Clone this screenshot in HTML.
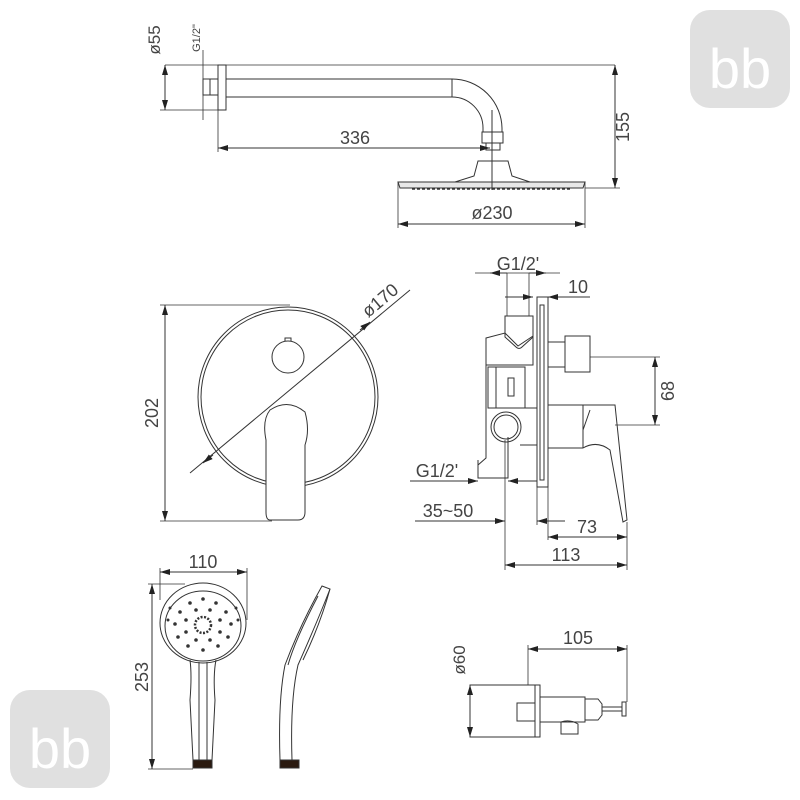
<!DOCTYPE html>
<html><head><meta charset="utf-8"><style>
html,body{margin:0;padding:0;background:#fff}
svg{display:block}
text{font-family:"Liberation Sans","DejaVu Sans",sans-serif;fill:#444}
</style></head><body>
<svg width="800" height="800" viewBox="0 0 800 800" xmlns="http://www.w3.org/2000/svg">
<defs>
<marker id="a" viewBox="0 0 10 6" refX="10" refY="3" markerWidth="10" markerHeight="6" orient="auto-start-reverse" markerUnits="userSpaceOnUse"><path d="M0,0L10,3L0,6z" fill="#222"/></marker>
</defs>
<!-- logos -->
<g>
<rect x="690" y="10" width="100" height="98" rx="20" fill="#e0e0e0"/>
<text x="740" y="88" font-size="56" text-anchor="middle" style="fill:#fff">bb</text>
<rect x="10" y="690" width="100" height="98" rx="20" fill="#e0e0e0"/>
<text x="60" y="768" font-size="56" text-anchor="middle" style="fill:#fff">bb</text>
</g>
<g fill="none" stroke="#333" stroke-width="1">
<!-- TOP SHOWER -->
<rect x="218" y="65" width="8" height="45"/>
<rect x="203" y="79" width="15" height="16"/>
<line x1="210" y1="79" x2="210" y2="95"/>
<path d="M226,79 H452 A50,50 0 0 1 502,129 V132"/>
<path d="M226,97 H452 A31,31 0 0 1 483,128 V132"/>
<line x1="452" y1="79" x2="452" y2="97"/>
<rect x="482" y="132" width="21" height="11"/>
<path d="M486,143 V150 H500 V143"/>
<path d="M478,161 H508 L512,176 L530,182 H455 L474,176 Z"/>
<path d="M398,182 H585 L583,188 H400 Z" fill="#e8e8e8"/>
<path d="M412,189 H570" stroke-dasharray="3,2" stroke-width="1.5"/>
<line x1="492" y1="110" x2="492" y2="190"/>
<!-- dims top -->
<line x1="165" y1="65" x2="615" y2="65" stroke-width="0.8"/>
<line x1="160" y1="110" x2="218" y2="110" stroke-width="0.8"/>
<line x1="165" y1="65" x2="165" y2="110" marker-start="url(#a)" marker-end="url(#a)"/>
<line x1="203" y1="50" x2="203" y2="120" stroke-width="0.8"/>
<line x1="615" y1="65" x2="615" y2="188" marker-start="url(#a)" marker-end="url(#a)"/>
<line x1="585" y1="188" x2="620" y2="188" stroke-width="0.8"/>
<line x1="218" y1="110" x2="218" y2="152" stroke-width="0.8"/>
<line x1="218" y1="148" x2="490" y2="148" marker-start="url(#a)" marker-end="url(#a)"/>
<line x1="398" y1="182" x2="398" y2="228" stroke-width="0.8"/>
<line x1="585" y1="182" x2="585" y2="228" stroke-width="0.8"/>
<line x1="398" y1="224" x2="585" y2="224" marker-start="url(#a)" marker-end="url(#a)"/>

<!-- ROUND PLATE -->
<circle cx="288" cy="397" r="90"/>
<circle cx="288" cy="397" r="87"/>
<circle cx="288" cy="357" r="16"/>
<path d="M285,341 V338 H291 V341"/>
<path d="M270,520 Q266,520 266,512 V440 Q262,420 270,410 Q288,398 305,412 Q310,430 305,445 V512 Q305,520 298,520 Z" fill="#fff"/>
<line x1="190" y1="473" x2="410" y2="290"/>
<path d="M213,455 L203,463" marker-end="url(#a)"/>
<path d="M360,330 L370,322" marker-end="url(#a)"/>
<line x1="160" y1="305" x2="290" y2="305" stroke-width="0.8"/>
<line x1="160" y1="521" x2="272" y2="521" stroke-width="0.8"/>
<line x1="165" y1="305" x2="165" y2="521" marker-start="url(#a)" marker-end="url(#a)"/>

<!-- SIDE VIEW -->
<rect x="537" y="297" width="11" height="190"/>
<rect x="540" y="305" width="4" height="175"/>
<path d="M505,316 H533 V337 L522,347 Q519,350 516,347 L505,337 Z"/>
<path d="M486,338 L505,333 L518,346 L533,336 V365 H486 Z"/>
<path d="M488,367 H525 V408 H488 Z"/>
<line x1="496" y1="367" x2="496" y2="408"/>
<rect x="508" y="378" width="6" height="18"/>
<path d="M486,338 V458 L478,465 V460 M478,465 V478 H508 V437"/>
<path d="M525,408 H537 V445 H520"/>
<circle cx="506" cy="427" r="15"/>
<circle cx="506" cy="427" r="12"/>
<rect x="565" y="336" width="25" height="36"/>
<line x1="548" y1="342" x2="565" y2="342"/>
<line x1="548" y1="367" x2="565" y2="367"/>
<path d="M548,405 H583 L597,405 H615 L627,520 L623,522 L610,450 Q597,440 583,448 H548"/>
<path d="M583,405 V448 M583,430 L590,410"/>
<!-- side dims -->
<line x1="475" y1="273" x2="560" y2="273" stroke-width="0.8"/>
<line x1="507" y1="273" x2="507" y2="316" stroke-width="0.8"/>
<line x1="529" y1="273" x2="529" y2="316" stroke-width="0.8"/>
<line x1="507" y1="273" x2="490" y2="273" marker-end="url(#a)"/>
<line x1="529" y1="273" x2="546" y2="273" marker-end="url(#a)"/>
<line x1="505" y1="297" x2="533" y2="297" marker-end="url(#a)"/>
<line x1="590" y1="297" x2="548" y2="297" marker-end="url(#a)"/>
<line x1="590" y1="357" x2="660" y2="357" stroke-width="0.8"/>
<line x1="615" y1="425" x2="660" y2="425" stroke-width="0.8"/>
<line x1="655" y1="357" x2="655" y2="425" marker-start="url(#a)" marker-end="url(#a)"/>
<line x1="410" y1="481" x2="478" y2="481" marker-end="url(#a)"/>
<line x1="537" y1="481" x2="508" y2="481" marker-end="url(#a)"/>
<line x1="415" y1="521" x2="505" y2="521" marker-end="url(#a)"/>
<line x1="565" y1="521" x2="537" y2="521" marker-end="url(#a)"/>
<line x1="505" y1="440" x2="505" y2="570" stroke-width="0.8"/>
<line x1="537" y1="487" x2="537" y2="525" stroke-width="0.8"/>
<line x1="548" y1="487" x2="548" y2="540" stroke-width="0.8"/>
<line x1="627" y1="522" x2="627" y2="570" stroke-width="0.8"/>
<line x1="548" y1="537" x2="627" y2="537" marker-start="url(#a)" marker-end="url(#a)"/>
<line x1="505" y1="565" x2="627" y2="565" marker-start="url(#a)" marker-end="url(#a)"/>

<!-- HAND SHOWER -->
<ellipse cx="203" cy="623" rx="43" ry="40"/>
<ellipse cx="203" cy="626" rx="38" ry="35"/>
<path d="M190,660 Q192,675 190,700 L193,760 H212 L215,700 Q213,675 216,660"/>
<line x1="199" y1="662" x2="199" y2="760"/>
<line x1="207" y1="662" x2="207" y2="760"/>
<rect x="193" y="760" width="19" height="8" fill="#2a1a10"/>
<g fill="#333" stroke="none">
<circle cx="203" cy="599" r="1.8"/><circle cx="190" cy="603" r="1.8"/><circle cx="216" cy="603" r="1.8"/>
<circle cx="180" cy="612" r="1.8"/><circle cx="226" cy="612" r="1.8"/><circle cx="175" cy="624" r="1.8"/>
<circle cx="231" cy="624" r="1.8"/><circle cx="178" cy="637" r="1.8"/><circle cx="228" cy="637" r="1.8"/>
<circle cx="188" cy="646" r="1.8"/><circle cx="218" cy="646" r="1.8"/><circle cx="203" cy="650" r="1.8"/>
<circle cx="196" cy="610" r="1.8"/><circle cx="210" cy="610" r="1.8"/><circle cx="186" cy="620" r="1.8"/>
<circle cx="220" cy="620" r="1.8"/><circle cx="186" cy="632" r="1.8"/><circle cx="220" cy="632" r="1.8"/>
<circle cx="196" cy="640" r="1.8"/><circle cx="210" cy="640" r="1.8"/><circle cx="168" cy="620" r="1.5"/>
<circle cx="238" cy="620" r="1.5"/><circle cx="170" cy="608" r="1.5"/><circle cx="236" cy="608" r="1.5"/>
</g>
<circle cx="203" cy="625" r="8" stroke-width="2.5" stroke-dasharray="2,1.5"/>
<path d="M322,586 L330,589 Q318,620 298,665 Q290,700 292,760 H280 Q278,700 285,665 Q300,625 322,586 Z"/>
<path d="M330,589 Q320,625 303,660" />
<path d="M288,665 Q295,640 318,596"/>
<rect x="280" y="760" width="19" height="8" fill="#2a1a10"/>
<line x1="160" y1="568" x2="160" y2="600" stroke-width="0.8"/>
<line x1="247" y1="568" x2="247" y2="620" stroke-width="0.8"/>
<line x1="160" y1="572" x2="247" y2="572" marker-start="url(#a)" marker-end="url(#a)"/>
<line x1="148" y1="584" x2="185" y2="584" stroke-width="0.8"/>
<line x1="148" y1="769" x2="193" y2="769" stroke-width="0.8"/>
<line x1="152" y1="584" x2="152" y2="769" marker-start="url(#a)" marker-end="url(#a)"/>

<!-- SPOUT -->
<rect x="470" y="685" width="65" height="52"/>
<rect x="535" y="685" width="5" height="52"/>
<rect x="517" y="703" width="18" height="18"/>
<path d="M540,697 H585 V722 H540"/>
<path d="M585,699 L598,699 L602,704 V715 L598,720 H585"/>
<rect x="602" y="707" width="20" height="4"/>
<rect x="622" y="702" width="4" height="14"/>
<path d="M561,722 V734 H578 V724 Q570,719 561,722"/>
<line x1="528" y1="645" x2="528" y2="685" stroke-width="0.8"/>
<line x1="627" y1="645" x2="627" y2="702" stroke-width="0.8"/>
<line x1="528" y1="649" x2="627" y2="649" marker-start="url(#a)" marker-end="url(#a)"/>
<line x1="470" y1="685" x2="470" y2="737" marker-start="url(#a)" marker-end="url(#a)"/>
</g>
<!-- texts -->
<text x="355" y="144" font-size="18" text-anchor="middle">336</text>
<text x="492" y="219" font-size="18" text-anchor="middle">ø230</text>
<text transform="translate(629,127) rotate(-90)" font-size="18" text-anchor="middle">155</text>
<text transform="translate(160,40) rotate(-90)" font-size="17" text-anchor="middle">ø55</text>
<text transform="translate(200,38) rotate(-90)" font-size="11" text-anchor="middle">G1/2"</text>
<text transform="translate(158,413) rotate(-90)" font-size="18" text-anchor="middle">202</text>
<text transform="translate(384,305) rotate(-40)" font-size="18" text-anchor="middle">ø170</text>
<text x="518" y="270" font-size="18" text-anchor="middle">G1/2'</text>
<text x="578" y="293" font-size="18" text-anchor="middle">10</text>
<text transform="translate(674,391) rotate(-90)" font-size="18" text-anchor="middle">68</text>
<text x="437" y="477" font-size="18" text-anchor="middle">G1/2'</text>
<text x="448" y="517" font-size="18" text-anchor="middle">35~50</text>
<text x="587" y="533" font-size="18" text-anchor="middle">73</text>
<text x="566" y="561" font-size="18" text-anchor="middle">113</text>
<text x="203" y="568" font-size="18" text-anchor="middle">110</text>
<text transform="translate(148,677) rotate(-90)" font-size="18" text-anchor="middle">253</text>
<text x="578" y="644" font-size="18" text-anchor="middle">105</text>
<text transform="translate(465,660) rotate(-90)" font-size="17" text-anchor="middle">ø60</text>
</svg>
</body></html>
